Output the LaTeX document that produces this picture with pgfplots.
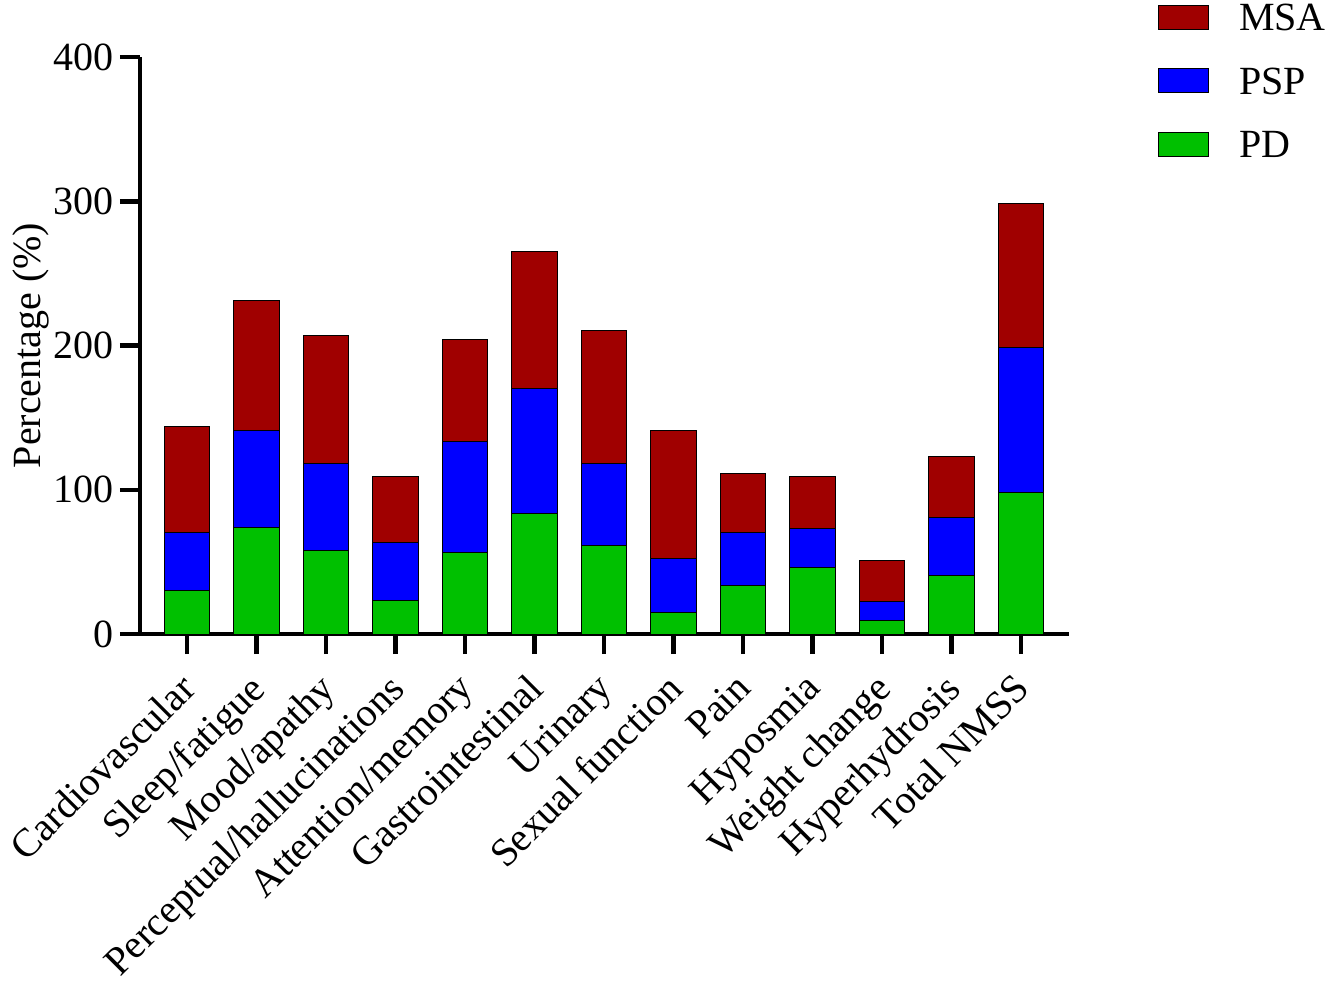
\documentclass[border=0pt]{standalone}
\usepackage{fontspec}
\setmainfont{Liberation Serif}
\usepackage{pgfplots}
\pgfplotsset{compat=1.18}
\definecolor{msa}{RGB}{160,0,0}
\definecolor{psp}{RGB}{0,0,255}
\definecolor{pd}{RGB}{0,192,0}
\begin{document}
\begin{tikzpicture}
\path[use as bounding box] (-70pt,-173.5pt) rectangle (592.5pt,317pt);
\begin{axis}[
  at={(0,0)}, anchor=south west,
  scale only axis, width=464.5pt, height=288.5pt,
  ybar stacked, bar width=22.85pt,
  xmin=-0.676, xmax=12.69, ymin=0, ymax=400,
  ytick={0,100,200,300,400},
  xtick={0,1,2,3,4,5,6,7,8,9,10,11,12},
  xticklabels={Cardiovascular,Sleep/fatigue,Mood/apathy,Perceptual/hallucinations,Attention/memory,Gastrointestinal,Urinary,Sexual function,Pain,Hyposmia,Weight change,Hyperhydrosis,Total NMSS},
  axis x line*=bottom, axis y line*=left,
  axis line style={line width=2.25pt, -},
  tick align=outside, major tick length=10pt,
  tick style={line width=2.25pt, black},
  /pgf/number format/assume math mode=true,
  tick label style={font=\fontsize{20}{24}\selectfont},
  x tick label style={xshift=-4.5pt, yshift=-8.5pt, rotate=45, anchor=north east, inner sep=0pt},
  y tick label style={inner sep=0pt, xshift=-3pt},
  ylabel={Percentage (\%)},
  every axis y label/.style={at={(axis description cs:-0.1076,0.5)}, rotate=90, anchor=base, font=\fontsize{20}{24}\selectfont},
  reverse legend,
  legend cell align=left,
  legend style={at={(1.0958,1.0923)}, anchor=north west, draw=none, fill=none, inner sep=0pt, outer sep=0pt,
    row sep=18.25pt, column sep=15pt,
    nodes={inner sep=0pt, text height=13.5pt, text depth=0pt, font=\fontsize{20}{24}\selectfont}},
]
\addplot[fill=pd, draw=black, line width=0.5pt,
  legend image code/.code={\draw[fill=pd,draw=black,line width=0.5pt] (0pt,-6pt) rectangle (25pt,6pt);}]
  coordinates {(0,30.3) (1,73.9) (2,58.0) (3,23.3) (4,56.8) (5,83.4) (6,61.2) (7,15.0) (8,33.5) (9,46.4) (10,9.2) (11,40.4) (12,98.2)};
\addplot[fill=psp, draw=black, line width=0.5pt,
  legend image code/.code={\draw[fill=psp,draw=black,line width=0.5pt] (0pt,-6pt) rectangle (25pt,6pt);}]
  coordinates {(0,40.1) (1,67.0) (2,60.0) (3,40.4) (4,76.7) (5,86.6) (6,56.8) (7,37.2) (8,36.9) (9,26.6) (10,13.4) (11,40.4) (12,100.4)};
\addplot[fill=msa, draw=black, line width=0.5pt,
  legend image code/.code={\draw[fill=msa,draw=black,line width=0.5pt] (0pt,-6pt) rectangle (25pt,6pt);}]
  coordinates {(0,73.5) (1,90.3) (2,88.7) (3,45.5) (4,70.4) (5,95.1) (6,92.2) (7,88.7) (8,41.1) (9,36.2) (10,28.2) (11,42.3) (12,100.0)};
\legend{PD,PSP,MSA}
\end{axis}
\end{tikzpicture}
\end{document}
